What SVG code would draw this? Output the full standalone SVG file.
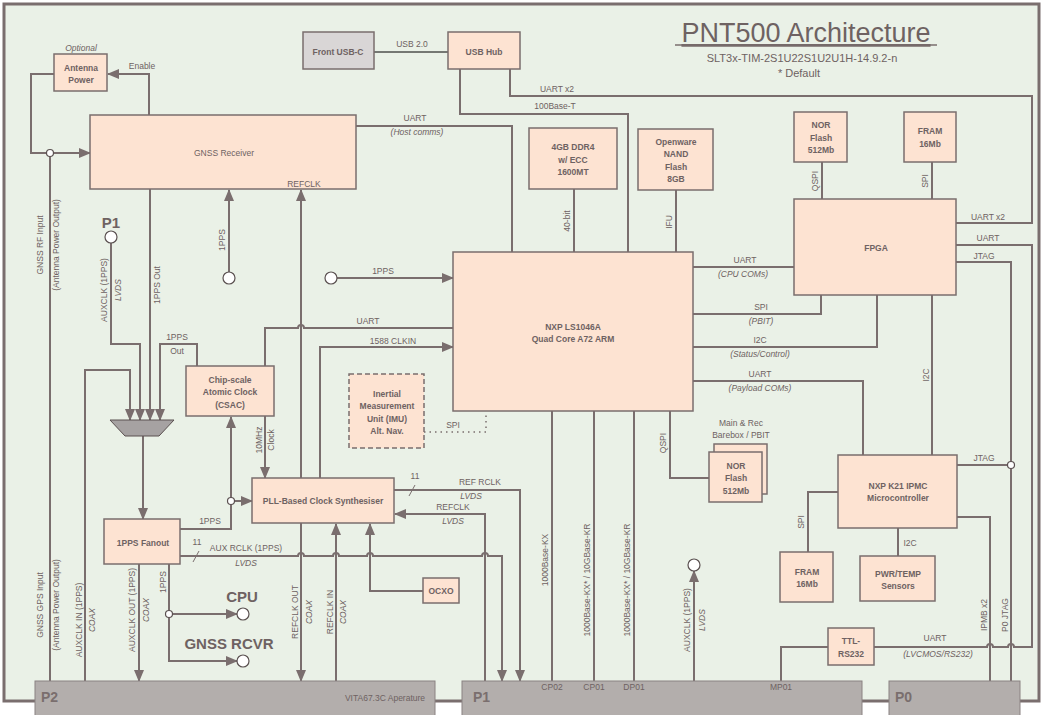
<svg xmlns="http://www.w3.org/2000/svg" width="1045" height="715" viewBox="0 0 1045 715">
<defs>
<marker id="ar" markerWidth="12" markerHeight="10" refX="11" refY="5" orient="auto" markerUnits="userSpaceOnUse"><path d="M0,0 L12,5 L0,10 z" fill="#7a6e6e"/></marker>
<style>
.n{fill:#fde3d2;stroke:#7a6e6e;stroke-width:1.5}
.g{fill:#d9d6d6;stroke:#7a6e6e;stroke-width:1.5}
.p{fill:#b3aeac;stroke:#8a8282;stroke-width:1}
.c{fill:none;stroke:#7a6e6e;stroke-width:2}
.a{marker-end:url(#ar)}
.d{fill:#fff;stroke:#5a5050;stroke-width:1.2}
text{font-family:"Liberation Sans",Arial,sans-serif;fill:#6e6262;font-size:8.5px;text-anchor:middle}
.b{font-weight:bold}
.i{font-style:italic}
.big{font-weight:bold;font-size:15px}
.pl{font-weight:bold;font-size:14px;text-anchor:start;fill:#7a6e6e}
</style>
</defs>
<rect x="4" y="4" width="1035" height="697" fill="#eaf1e7" stroke="#7a6e6e" stroke-width="3"/>
<text x="806" y="42" style="font-size:27px" text-decoration="underline">PNT500 Architecture</text>
<line x1="675" y1="45" x2="937" y2="45" stroke="#7a6e6e" stroke-width="1.5"/>
<text x="802" y="62" style="font-size:11px">SLT3x-TIM-2S1U22S1U2U1H-14.9.2-n</text>
<text x="799" y="77" style="font-size:11px">* Default</text>

<g id="connectors">
<line x1="374" y1="52" x2="448" y2="52" stroke="#000" stroke-width="1"/>
<text x="412" y="47">USB 2.0</text>
<path class="c" d="M460,69 V114 H628 V252"/><text x="555" y="109">100Base-T</text>
<path class="c" d="M510,69 V96 H1032 V223 H956"/><text x="557" y="92">UART x2</text><text x="988" y="220">UART x2</text>
<path class="c" d="M356,126 H512 V252"/><text x="415" y="121">UART</text><text x="417" y="135" class="i">(Host comms)</text>
<path class="c a" d="M54,74 H31 V153 H90"/>
<path class="c a" d="M149,115 V74 H108"/><text x="142" y="69">Enable</text>
<path class="c" d="M50,153 V681"/>
<text transform="translate(43,245) rotate(-90)">GNSS RF Input</text>
<text transform="translate(59,245) rotate(-90)">(Antenna Power Output)</text>
<text transform="translate(43,605) rotate(-90)">GNSS GPS Input</text>
<text transform="translate(59,605) rotate(-90)">(Antenna Power Output)</text>
<path class="c a" d="M150,189 V420"/><text transform="translate(160,285) rotate(-90)">1PPS Out</text>
<path class="c a" d="M229,272 V190"/><text transform="translate(225,240) rotate(-90)">1PPS</text>
<path class="c a" d="M301,478 V190"/>
<path class="c a" d="M111,243 V344 H140 V420"/>
<text transform="translate(107,290) rotate(-90)">AUXCLK (1PPS)</text>
<text transform="translate(121,290) rotate(-90)" class="i">LVDS</text>
<path class="c a" d="M197,366 V344 H160 V420"/><text x="177" y="340">1PPS</text><text x="177" y="354">Out</text>
<path class="c a" d="M85,681 V370 H130 V420"/>
<text transform="translate(82,620) rotate(-90)">AUXCLK IN (1PPS)</text>
<text transform="translate(95,620) rotate(-90)" class="i">COAX</text>
<path class="c a" d="M143,436 V519"/>
<path class="c a" d="M180,529 H231 V417"/>
<path class="c a" d="M231,501 H252"/><text x="210" y="524">1PPS</text>
<path class="c a" d="M265,416 V478"/>
<text transform="translate(262,440) rotate(-90)">10MHz</text>
<text transform="translate(274,440) rotate(-90)">Clock</text>
<path class="c" d="M265,366 V328 H298 a3,3 0 0 1 6,0 H453"/><text x="368" y="324">UART</text>
<path class="c a" d="M320,478 V347 H453"/><text x="393" y="344">1588 CLKIN</text>
<path class="c a" d="M337,278 H453"/><text x="383" y="274">1PPS</text>
<path d="M424,432 H486 V412" fill="none" stroke="#7a6e6e" stroke-width="1.5" stroke-dasharray="1.5,4"/><text x="453" y="428">SPI</text>
<path class="c a" d="M394,490 H520 V681"/>
<line x1="409" y1="496" x2="415" y2="485" stroke="#7a6e6e" stroke-width="1"/>
<text x="415" y="479">11</text><text x="480" y="485">REF RCLK</text><text x="471" y="499" class="i">LVDS</text>
<path class="c a" d="M485,681 V514 H395"/><text x="453" y="510">REFCLK</text><text x="453" y="524" class="i">LVDS</text>
<path class="c a" d="M180,556 H298 a3,3 0 0 1 6,0 H333 a3,3 0 0 1 6,0 H367 a3,3 0 0 1 6,0 H482 a3,3 0 0 1 6,0 H502 V681"/>
<line x1="193" y1="562" x2="199" y2="551" stroke="#7a6e6e" stroke-width="1"/>
<text x="197" y="545">11</text><text x="246" y="551">AUX RCLK (1PPS)</text><text x="246" y="566" class="i">LVDS</text>
<path class="c a" d="M301,523 V681"/>
<text transform="translate(298,612) rotate(-90)">REFCLK OUT</text>
<text transform="translate(312,612) rotate(-90)" class="i">COAX</text>
<path class="c a" d="M336,681 V524"/>
<text transform="translate(333,612) rotate(-90)">REFCLK IN</text>
<text transform="translate(346,612) rotate(-90)" class="i">COAX</text>
<path class="c a" d="M423,591 H370 V524"/>
<path class="c a" d="M139,564 V681"/>
<text transform="translate(135,610) rotate(-90)">AUXCLK OUT (1PPS)</text>
<text transform="translate(149,610) rotate(-90)" class="i">COAX</text>
<path class="c a" d="M169,564 V661 H237"/>
<path class="c a" d="M169,614 H237"/>
<text transform="translate(166,582) rotate(-90)">1PPS</text>
<path class="c" d="M552,411 V681"/><text transform="translate(548,560) rotate(-90)">1000Base-KX</text>
<path class="c" d="M594,411 V681"/><text transform="translate(590,580) rotate(-90)">1000Base-KX* / 10GBase-KR</text>
<path class="c" d="M634,411 V681"/><text transform="translate(630,580) rotate(-90)">1000Base-KX* / 10GBase-KR</text>
<path class="c" d="M670,411 V478 H709"/><text transform="translate(666,443) rotate(-90)">QSPI</text>
<text x="741" y="426">Main &amp; Rec</text><text x="741" y="438">Barebox / PBIT</text>
<path class="c a" d="M694,681 V571"/>
<text transform="translate(690,620) rotate(-90)">AUXCLK (1PPS)</text>
<text transform="translate(705,620) rotate(-90)" class="i">LVDS</text>
<path class="c" d="M574,189 V252"/><text transform="translate(570,221) rotate(-90)">40-bit</text>
<path class="c" d="M676,190 V252"/><text transform="translate(672,222) rotate(-90)">IFU</text>
<path class="c" d="M822,162 V199"/><text transform="translate(818,181) rotate(-90)">QSPI</text>
<path class="c" d="M932,162 V199"/><text transform="translate(928,181) rotate(-90)">SPI</text>
<path class="c" d="M693,267 H794"/><text x="745" y="263">UART</text><text x="743" y="277" class="i">(CPU COMs)</text>
<path class="c" d="M693,314 H821 V295"/><text x="761" y="310">SPI</text><text x="761" y="324" class="i">(PBIT)</text>
<path class="c" d="M693,347 H877 V295"/><text x="760" y="343">I2C</text><text x="760" y="357" class="i">(Status/Control)</text>
<path class="c" d="M693,381 H863 V455"/><text x="760" y="377">UART</text><text x="760" y="391" class="i">(Payload COMs)</text>
<path class="c" d="M932,295 V455"/><text transform="translate(929,375) rotate(-90)">I2C</text>
<path class="c" d="M956,245 H1032 V647 H1014 a3,3 0 0 0 -6,0 H993 a3,3 0 0 0 -6,0 H874"/><text x="988" y="241">UART</text>
<text x="935" y="641">UART</text><text x="938" y="657" class="i">(LVCMOS/RS232)</text>
<path class="c" d="M956,262 H1011 V681"/><text x="984" y="259">JTAG</text>
<path class="c" d="M957,465 H1011"/><text x="984" y="461">JTAG</text>
<path class="c" d="M957,517 H990 V681"/>
<text transform="translate(987,615) rotate(-90)">IPMB x2</text>
<text transform="translate(1008,615) rotate(-90)">P0 JTAG</text>
<path class="c" d="M838,492 H808 V552"/><text transform="translate(804,522) rotate(-90)">SPI</text>
<path class="c" d="M898,528 V556"/><text x="910" y="546">I2C</text>
<path class="c" d="M828,647 H781 V681"/>
<circle class="d" cx="50" cy="153" r="3.5"/>
<circle class="d" cx="231" cy="501" r="3.5"/>
<circle class="d" cx="169" cy="614" r="3.5"/>
<circle class="d" cx="1011" cy="465" r="3.5"/>
<circle class="d" cx="111" cy="237" r="6"/>
<circle class="d" cx="229" cy="278" r="6"/>
<circle class="d" cx="331" cy="278" r="6"/>
<circle class="d" cx="243" cy="614" r="6"/>
<circle class="d" cx="243" cy="661" r="6"/>
<circle class="d" cx="694" cy="565" r="6"/>
</g>
<text x="111" y="228" class="big">P1</text>
<text x="242" y="602" class="big">CPU</text>
<text x="229" y="649" class="big">GNSS RCVR</text>

<g id="front-usbc"><rect class="g" x="303" y="32" width="71" height="37"/><text x="338" y="55" class="b">Front USB-C</text></g>
<g id="usb-hub"><rect class="n" x="448" y="32" width="72" height="37"/><text x="484" y="55" class="b">USB Hub</text></g>
<g id="antenna-power"><text x="81" y="51" class="i">Optional</text><rect class="n" x="54" y="54" width="53" height="37"/><text x="81" y="71" class="b">Antenna</text><text x="81" y="83" class="b">Power</text></g>
<g id="gnss"><rect class="n" x="90" y="115" width="266" height="74"/><text x="224" y="156">GNSS Receiver</text><text x="304" y="187">REFCLK</text></g>
<g id="ddr4"><rect class="n" x="529" y="128" width="88" height="61"/><text x="573" y="150" class="b">4GB DDR4</text><text x="573" y="163" class="b">w/ ECC</text><text x="573" y="175" class="b">1600MT</text></g>
<g id="nand"><rect class="n" x="638" y="129" width="75" height="61"/><text x="676" y="145" class="b">Openware</text><text x="676" y="157" class="b">NAND</text><text x="676" y="170" class="b">Flash</text><text x="676" y="182" class="b">8GB</text></g>
<g id="nor-top"><rect class="n" x="794" y="112" width="53" height="50"/><text x="821" y="128" class="b">NOR</text><text x="821" y="141" class="b">Flash</text><text x="821" y="153" class="b">512Mb</text></g>
<g id="fram-top"><rect class="n" x="904" y="112" width="52" height="50"/><text x="930" y="134" class="b">FRAM</text><text x="930" y="147" class="b">16Mb</text></g>
<g id="fpga"><rect class="n" x="794" y="199" width="162" height="96"/><text x="876" y="251" class="b">FPGA</text></g>
<g id="ls1046a"><rect class="n" x="453" y="252" width="240" height="159"/><text x="573" y="330" class="b">NXP LS1046A</text><text x="573" y="342" class="b">Quad Core A72 ARM</text></g>
<g id="csac"><rect class="n" x="186" y="366" width="88" height="50"/><text x="230" y="383" class="b">Chip-scale</text><text x="230" y="395" class="b">Atomic Clock</text><text x="230" y="408" class="b">(CSAC)</text></g>
<g id="imu"><rect x="349" y="374" width="75" height="74" fill="#fde3d2" stroke="#7a6e6e" stroke-width="1.5" stroke-dasharray="5,3"/><text x="387" y="397" class="b">Inertial</text><text x="387" y="409" class="b">Measurement</text><text x="387" y="422" class="b">Unit (IMU)</text><text x="387" y="434" class="b">Alt. Nav.</text></g>
<g id="pll"><rect class="n" x="252" y="478" width="142" height="45"/><text x="323" y="504" class="b">PLL-Based Clock Synthesiser</text></g>
<g id="fanout"><rect class="n" x="104" y="519" width="76" height="45"/><text x="143" y="546" class="b">1PPS Fanout</text></g>
<g id="mux"><polygon points="110,420 174,420 159,436 125,436" fill="#a6a2a2" stroke="#5a5050" stroke-width="1"/></g>
<g id="ocxo"><rect class="n" x="423" y="578" width="36" height="25"/><text x="441" y="594" class="b">OCXO</text></g>
<g id="nor-bottom"><rect class="n" x="714" y="444" width="53" height="50"/><rect class="n" x="709" y="452" width="53" height="50"/><text x="736" y="469" class="b">NOR</text><text x="736" y="481" class="b">Flash</text><text x="736" y="494" class="b">512Mb</text></g>
<g id="k21"><rect class="n" x="838" y="455" width="119" height="73"/><text x="898" y="489" class="b">NXP K21 IPMC</text><text x="898" y="501" class="b">Microcontroller</text></g>
<g id="fram-bottom"><rect class="n" x="780" y="552" width="53" height="50"/><text x="807" y="575" class="b">FRAM</text><text x="807" y="587" class="b">16Mb</text></g>
<g id="pwr"><rect class="n" x="860" y="556" width="75" height="45"/><text x="898" y="577" class="b">PWR/TEMP</text><text x="898" y="589" class="b">Sensors</text></g>
<g id="ttl"><rect class="n" x="828" y="628" width="46" height="37"/><text x="851" y="644" class="b">TTL-</text><text x="851" y="657" class="b">RS232</text></g>
<g id="p2"><rect class="p" x="35" y="681" width="400" height="36"/><text x="41" y="702" class="pl">P2</text><text x="385" y="701">VITA67.3C Aperature</text></g>
<g id="p1"><rect class="p" x="462" y="681" width="400" height="36"/><text x="473" y="702" class="pl">P1</text><text x="552" y="690">CP02</text><text x="594" y="690">CP01</text><text x="634" y="690">DP01</text><text x="781" y="690">MP01</text></g>
<g id="p0"><rect class="p" x="889" y="681" width="131" height="36"/><text x="895" y="702" class="pl">P0</text></g>
</svg>
